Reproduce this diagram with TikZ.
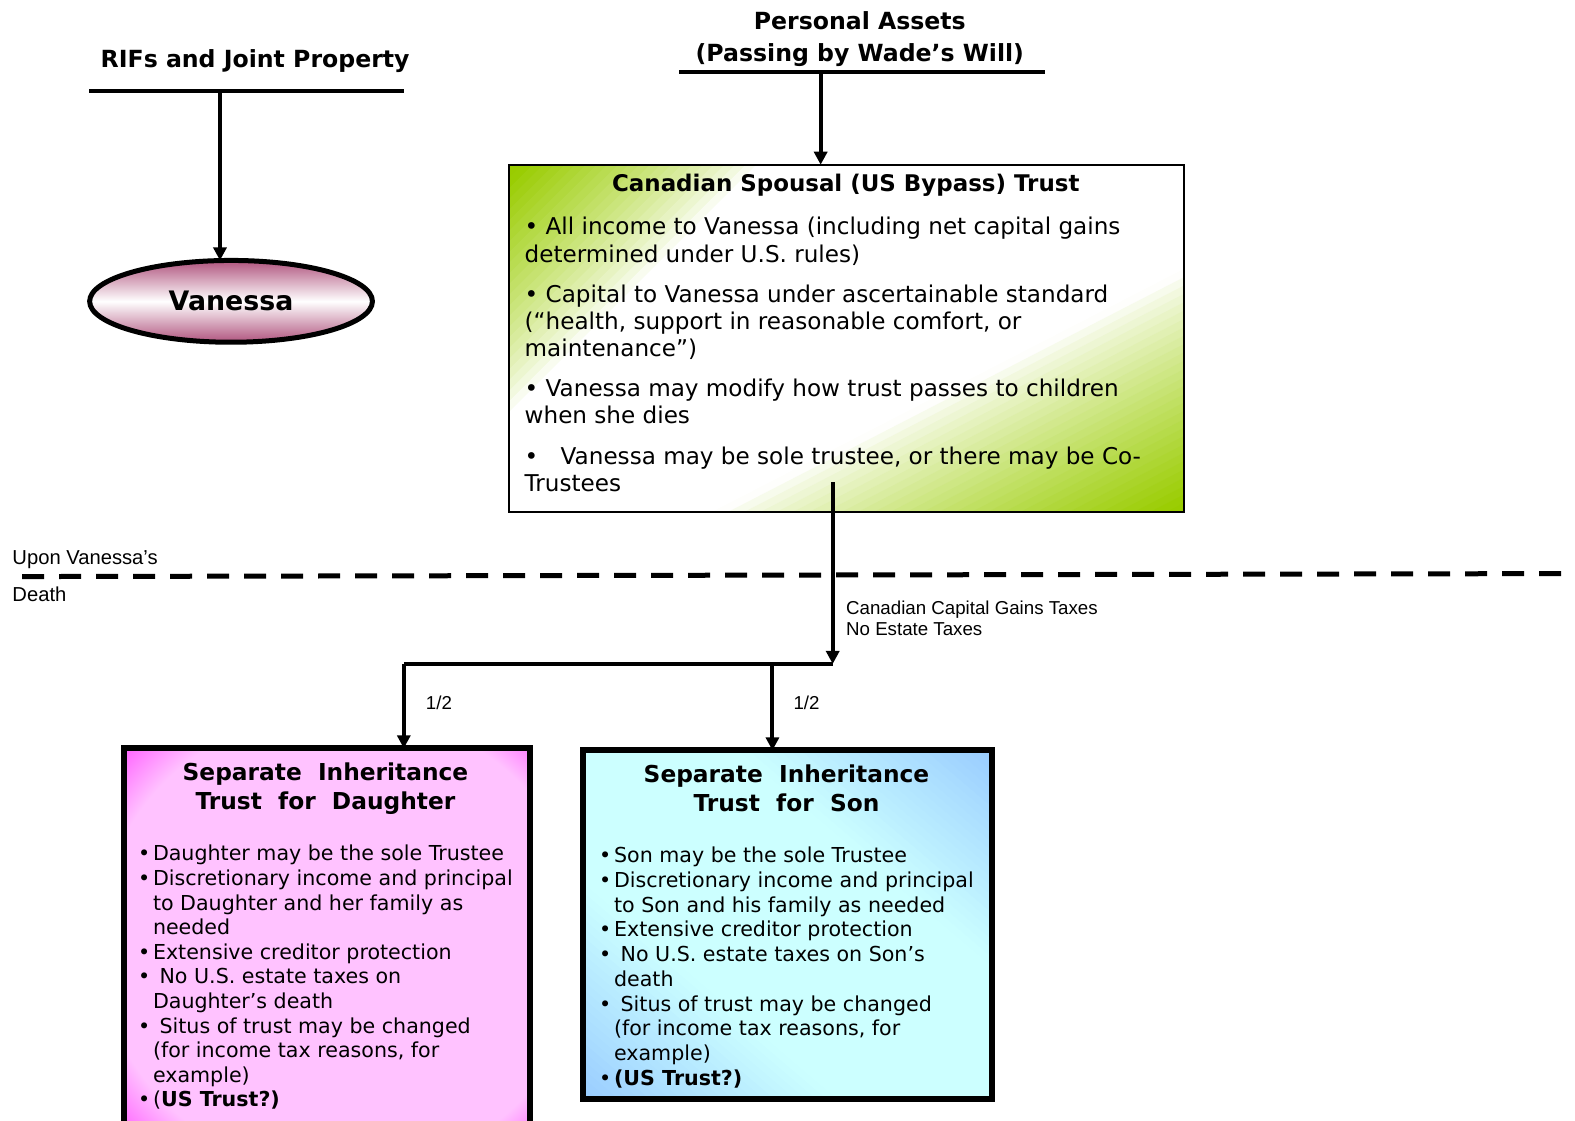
\documentclass[tikz,border=0pt]{standalone}
\usepackage{fontspec}
\setmainfont{DejaVu Sans}
\newfontfamily\arialf{Liberation Sans}
\usetikzlibrary{arrows.meta,shapes.geometric}
\definecolor{grn}{RGB}{153,204,0}
\definecolor{mauve}{RGB}{176,84,126}
\definecolor{pinkf}{RGB}{255,194,255}
\definecolor{magf}{RGB}{255,102,255}
\definecolor{cyanf}{RGB}{204,255,255}
\definecolor{bluef}{RGB}{153,204,255}
\pgfdeclareradialshading{daushade}{\pgfpoint{4.5bp}{0bp}}{color(0bp)=(pinkf); color(30bp)=(pinkf); color(36bp)=(magf); color(50bp)=(magf)}
\newcommand\bul{\makebox[7.5pt][l]{•}}
\newcommand\ind{\hspace*{7.5pt}}
\begin{document}
\begin{tikzpicture}[x=0.50225pt,y=-0.50225pt,
  arr/.style={line width=2pt,-{Triangle[length=6.5pt,width=6.5pt]}},
  rulel/.style={line width=2pt},
  toptitle/.style={font=\fontsize{11.8}{16}\selectfont\bfseries, inner sep=0, align=center},
  boxtitle/.style={font=\fontsize{11.65}{14.6}\selectfont\bfseries, inner sep=0, align=center},
  boxbody/.style={font=\fontsize{10.3}{12.3}\selectfont, inner sep=0, align=left, anchor=north west},
  lab/.style={font=\arialf\fontsize{9.35}{10.6}\selectfont, inner sep=0, align=left},
  sidelab/.style={font=\arialf\fontsize{10.1}{12}\selectfont, inner sep=0, anchor=base west},
]
\useasboundingbox (0,0) rectangle (1568,1116);
% top titles
\node[toptitle, anchor=base] (rif) at (254,67) {RIFs and Joint Property};
\draw[rulel] (89,91) -- (402,91);
\coordinate (rifr) at (219,91);
\node[toptitle, anchor=north] (pa) at (856,11) {Personal Assets\\(Passing by Wade’s Will)};
\draw[rulel] (676,72) -- (1040,72);
\coordinate (par) at (817,72);
% Vanessa
\node[ellipse, draw, line width=2.5pt, top color=mauve, bottom color=mauve, middle color=white,
  minimum width=141.4pt, minimum height=40.9pt, inner sep=0, outer sep=0,
  font=\fontsize{13.4}{16}\selectfont\bfseries] (van) at (230,300) {Vanessa};
\draw[arr] (rifr) -- (rifr |- van.north);
% Canadian box gradient: green corners (top left, bottom right), white middle
\begin{scope}
\clip (507,164) rectangle (1179,510);
% top-left corner, 45 degree bands
\foreach \k in {0,...,24}{
  \pgfmathsetmacro\p{-366+\k*7.5}
  \pgfmathsetmacro\f{100*max(0,min(1,(-185-(\p)-3.75)/165))^0.8}
  \pgfmathsetmacro\ax{843+(\p)*0.7071}
  \pgfmathsetmacro\ay{337+(\p)*0.7071}
  \pgfmathsetmacro\bx{843+(\p+8.7)*0.7071}
  \pgfmathsetmacro\by{337+(\p+8.7)*0.7071}
  \fill[grn!\f!white] (\ax+400,\ay-400) -- (\ax-400,\ay+400) -- (\bx-400,\by+400) -- (\bx+400,\by-400) -- cycle;
}
% bottom-right corner, bands parallel to the diagonal
\foreach \k in {0,...,29}{
  \pgfmathsetmacro\p{92+\k*7.4}
  \pgfmathsetmacro\f{100*max(0,min(1,((\p)+3.7-95)/205))^0.8}
  \pgfmathsetmacro\ax{843+(\p)*0.4577}
  \pgfmathsetmacro\ay{337+(\p)*0.8891}
  \pgfmathsetmacro\bx{843+(\p+8.6)*0.4577}
  \pgfmathsetmacro\by{337+(\p+8.6)*0.8891}
  \fill[grn!\f!white] (\ax+444.6,\ay-228.9) -- (\ax-444.6,\ay+228.9) -- (\bx-444.6,\by+228.9) -- (\bx+444.6,\by-228.9) -- cycle;
}
\end{scope}
\node[draw, line width=1pt, anchor=north west,
  minimum width=337.5pt, minimum height=173.8pt, inner sep=0, outer sep=0] (can) at (507,164) {};
\draw[arr] (par) -- (par |- can.north);
\node[font=\fontsize{11.47}{13.5}\selectfont\bfseries, inner sep=0, anchor=base] (cantitle) at (842,191) {Canadian Spousal (US Bypass) Trust};
\node[font=\fontsize{11.55}{13.55}\selectfont, inner sep=0, align=left, anchor=north west] (canbody) at (522,216)
{• All income to Vanessa (including net capital gains\\
determined under U.S. rules)\\[6.5pt]
• Capital to Vanessa under ascertainable standard\\
(“health, support in reasonable comfort, or\\
maintenance”)\\[6.5pt]
• Vanessa may modify how trust passes to children\\
when she dies\\[6.8pt]
•\hspace{7.5pt} Vanessa may be sole trustee, or there may be Co-\\
Trustees};
% dashed line
\draw[line width=2.5pt, dash pattern=on 11pt off 7.5pt] (22,574) -- (1568,571);
\node[sidelab] (upon) at (12,562) {Upon Vanessa’s};
\node[sidelab] (death) at (12,599) {Death};
% trunk
\coordinate (cstart) at (829,480);
\coordinate (junc) at (829,661);
\coordinate (jl) at (402,661);
\coordinate (jm) at (769,661);
\draw[arr] (cstart) -- (junc);
\draw[line width=2pt] (jl) -- (junc);
\node[lab, anchor=north west] (tax) at (842,598) {Canadian Capital Gains Taxes\\No Estate Taxes};
% daughter box
\node[draw, line width=3pt, shade, shading=daushade, anchor=north west,
  minimum width=203.4pt, minimum height=193.4pt, inner sep=0, outer sep=0] (dau) at (123,745) {};
\node[boxtitle, anchor=north] (dautitle) at (324,759) {Separate\ \ Inheritance\\Trust\ \ for\ \ Daughter};
\node[boxbody] (daubody) at (137,841)
{\bul Daughter may be the sole Trustee\\
\bul Discretionary income and principal\\
\ind to Daughter and her family as\\
\ind needed\\
\bul Extensive creditor protection\\
\bul\ No U.S. estate taxes on\\
\ind Daughter’s death\\
\bul\ Situs of trust may be changed\\
\ind (for income tax reasons, for\\
\ind example)\\
\bul(\textbf{US Trust?)}};
% son box gradient (blue - cyan - blue, diagonal)
\begin{scope}
\clip (580,747) rectangle (988,1094);
\foreach \k in {0,...,79}{
  \pgfmathsetmacro\p{-268+\k*6.7}
  \pgfmathsetmacro\s{((\p)+3.35)/264.4}
  \pgfmathsetmacro\f{100*max(0,min(1,(abs(\s)-0.38)/0.62))}
  \pgfmathsetmacro\ax{784+(\p)*0.6479}
  \pgfmathsetmacro\ay{920.5-(\p)*0.7618}
  \pgfmathsetmacro\bx{784+(\p+8)*0.6479}
  \pgfmathsetmacro\by{920.5-(\p+8)*0.7618}
  \fill[bluef!\f!cyanf] (\ax+304.7,\ay+259.2) -- (\ax-304.7,\ay-259.2) -- (\bx-304.7,\by-259.2) -- (\bx+304.7,\by+259.2) -- cycle;
}
\end{scope}
\node[draw, line width=3pt, anchor=north west,
  minimum width=204.9pt, minimum height=174.3pt, inner sep=0, outer sep=0] (son) at (580,747) {};
\node[boxtitle, anchor=north] (sontitle) at (783,761) {Separate\ \ Inheritance\\Trust\ \ for\ \ Son};
\node[boxbody, font=\fontsize{10.3}{12.35}\selectfont] (sonbody) at (596,843)
{\bul Son may be the sole Trustee\\
\bul Discretionary income and principal\\
\ind to Son and his family as needed\\
\bul Extensive creditor protection\\
\bul\ No U.S. estate taxes on Son’s\\
\ind death\\
\bul\ Situs of trust may be changed\\
\ind (for income tax reasons, for\\
\ind example)\\
\bul\textbf{(US Trust?)}};
% split arrows
\draw[arr] (jl) -- (jl |- dau.north);
\draw[arr] (jm) -- (jm |- son.north);
\node[lab, anchor=base] (halfl) at (437,706) {1/2};
\node[lab, anchor=base] (halfr) at (803,706) {1/2};
\end{tikzpicture}
\end{document}
